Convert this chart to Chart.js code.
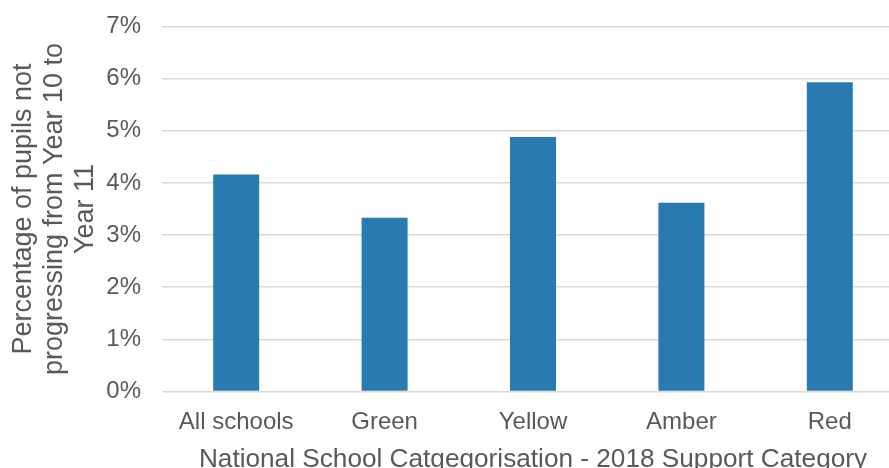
<!DOCTYPE html>
<html>
<head>
<meta charset="utf-8">
<script src="https://cdn.jsdelivr.net/npm/chart.js@4"></script>
<style>
  html, body { margin: 0; padding: 0; background: #fff; overflow: hidden; }
  #wrap { width: 904px; height: 480px; }
</style>
</head>
<body>
<div id="wrap"><canvas id="chart" width="904" height="480"></canvas></div>
<script>
// data (percent)
const categories = ["All schools", "Green", "Yellow", "Amber", "Red"];
const notProgressing = [4.16, 3.33, 4.88, 3.62, 5.93];
const yTitle = ["Percentage of pupils not", "progressing from Year 10 to", "Year 11"];
const xTitle = "National School Catgegorisation - 2018 Support Category";

const textColor = "#595959";
const fontFamily = "'Liberation Sans', Arial, sans-serif";

const ctx = document.getElementById("chart").getContext("2d");

new Chart(ctx, {
  type: "bar",
  data: {
    labels: categories,
    datasets: [
      {
        data: notProgressing,
        backgroundColor: "#2A7AB2",
        borderWidth: 0,
        barPercentage: 1,
        categoryPercentage: 0.31,
      },
    ],
  },
  options: {
    responsive: false,
    animation: false,
    layout: { padding: 0 },
    plugins: {
      legend: { display: false },
      tooltip: { enabled: false },
    },
    scales: {
      x: {
        grid: { display: false },
        border: { display: false },
        ticks: {
          color: textColor,
          font: { family: fontFamily, size: 24 },
          padding: 8,
          maxRotation: 0,
        },
        title: {
          display: true,
          text: xTitle,
          color: textColor,
          font: { family: fontFamily, size: 26.2, lineHeight: 1.2 },
          padding: { top: 0, bottom: 5 },
        },
        afterFit: (scale) => {
          scale.height = 88.5;
        },
      },
      y: {
        min: 0,
        max: 7,
        grid: { color: "#D9D9D9", lineWidth: 1.5, drawTicks: false },
        border: { display: false },
        ticks: {
          stepSize: 1,
          color: textColor,
          font: { family: fontFamily, size: 24 },
          padding: 21,
          callback: (v) => v + "%",
        },
        title: {
          display: true,
          text: yTitle,
          color: textColor,
          font: { family: fontFamily, size: 27, lineHeight: 1.15 },
          padding: { top: 8, bottom: 6 },
        },
        afterFit: (scale) => {
          scale.width = 162;
          scale.paddingTop = 26.5;
        },
      },
    },
  },
});
</script>
</body>
</html>
